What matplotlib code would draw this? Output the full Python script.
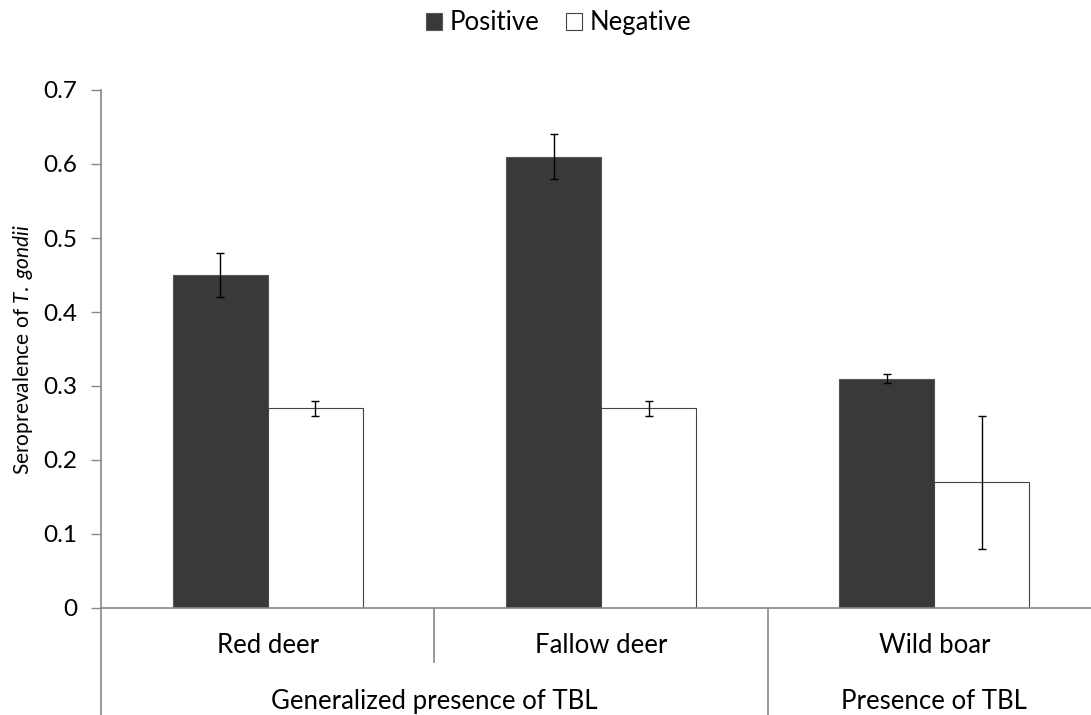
import matplotlib
matplotlib.use('Agg')
import matplotlib.pyplot as plt
import matplotlib.transforms as mtransforms
import numpy as np

plt.rcParams['font.family'] = ['Lato', 'DejaVu Sans']
plt.rcParams['mathtext.fontset'] = 'custom'
plt.rcParams['mathtext.it'] = 'Lato:italic'
plt.rcParams['mathtext.rm'] = 'Lato'

# Data
species = ['Red deer', 'Fallow deer', 'Wild boar']
groups = ['Generalized presence of TBL', 'Presence of TBL']
positive = [0.45, 0.61, 0.31]
positive_err = [0.03, 0.03, 0.006]
negative = [0.27, 0.27, 0.17]
negative_err = [0.01, 0.01, 0.09]

fig = plt.figure(figsize=(10.91, 7.15), dpi=100)
# axis runs a little past the right edge of the picture
ax = fig.add_axes([101/1091, 107/715, 1000/1091, 518/715])

x = np.arange(len(species)) + 0.5
w = 0.285
ax.bar(x - w/2, positive, w, color='#3a3937', edgecolor='#555555', linewidth=0.8,
       label='Positive', zorder=2)
ax.bar(x + w/2, negative, w, color='white', edgecolor='#444444', linewidth=0.8,
       label='Negative', zorder=2)
ax.errorbar(x - w/2, positive, yerr=positive_err, fmt='none', ecolor='black',
            elinewidth=1, capsize=3, capthick=1, zorder=3)
ax.errorbar(x + w/2, negative, yerr=negative_err, fmt='none', ecolor='black',
            elinewidth=1, capsize=3, capthick=1, zorder=3)

ax.set_xlim(0, 3)
ax.set_ylim(0, 0.7)
ax.set_yticks(np.arange(0, 0.71, 0.1))
ax.set_yticklabels(['0'] + [f'{v:.1f}' for v in np.arange(0.1, 0.71, 0.1)])
ax.tick_params(axis='y', direction='out', length=7, width=1, color='#888888',
               labelsize=17.5, pad=10)
ax.set_xticks([])
for s in ['top', 'right']:
    ax.spines[s].set_visible(False)
for s in ['left', 'bottom']:
    ax.spines[s].set_color('#888888')
    ax.spines[s].set_linewidth(1.2)

ax.set_ylabel(r'Seroprevalence of $\mathit{T.}$ $\mathit{gondii}$', fontsize=15)
ax.yaxis.set_label_coords(-0.066, 0.5)

# Multi-level category axis
trans = mtransforms.blended_transform_factory(ax.transData, ax.transAxes)
ax.plot([0, 0], [0, -0.21], transform=trans, color='#888888', lw=1.2, clip_on=False)
ax.plot([1, 1], [0, -0.104], transform=trans, color='#888888', lw=1.2, clip_on=False)
ax.plot([2, 2], [0, -0.21], transform=trans, color='#888888', lw=1.2, clip_on=False)
for xi, name in zip(x, species):
    ax.text(xi, -0.073, name, transform=trans, ha='center', va='center', fontsize=18.5)
ax.text(1.0, -0.18, groups[0], transform=trans, ha='center', va='center', fontsize=18.5)
ax.text(2.5, -0.18, groups[1], transform=trans, ha='center', va='center', fontsize=18.5)

fig.legend(loc='upper center', bbox_to_anchor=(0.512, 1.018), ncol=2, frameon=False,
           fontsize=18.5, handlelength=0.62, handleheight=0.62, handletextpad=0.3,
           columnspacing=1.05)

fig.savefig('out.png', dpi=100)
